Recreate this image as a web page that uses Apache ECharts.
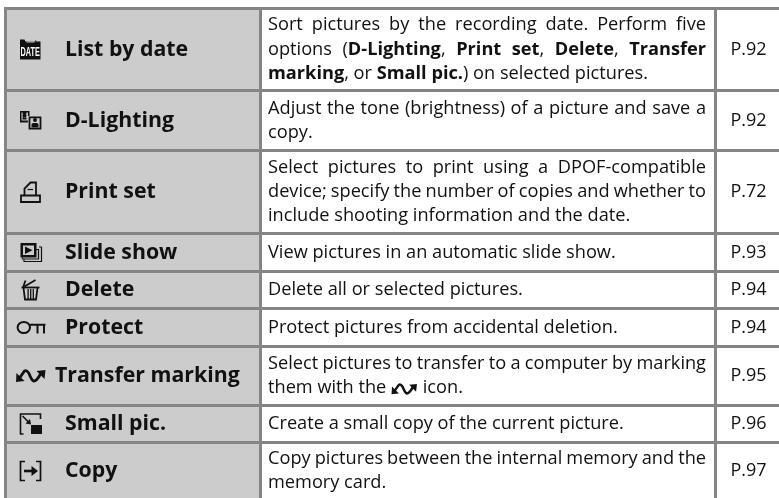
<!DOCTYPE html>
<html>
<head>
<meta charset="utf-8">
<style>
  html, body { margin: 0; padding: 0; background: #fff; }
  #main { width: 779px; height: 498px; }
</style>
<script src="https://cdn.jsdelivr.net/npm/echarts@6/dist/echarts.min.js"></script>
</head>
<body>
<div id="main"></div>
<script>
const itemIcons = ['date', 'dlighting', 'print', 'slide', 'delete', 'protect', 'transfer', 'small', 'copy'];
const itemNames = ['List by date', 'D-Lighting', 'Print set', 'Slide show', 'Delete', 'Protect', 'Transfer marking', 'Small pic.', 'Copy'];
const itemPages = ['P.92', 'P.92', 'P.72', 'P.93', 'P.94', 'P.94', 'P.95', 'P.96', 'P.97'];
// ** marks bold, @ is the inline transfer icon
const itemDescriptions = [
  ['Sort pictures by the recording date. Perform five',
   'options (**D-Lighting**, **Print set**, **Delete**, **Transfer**',
   '**marking**, or **Small pic.**) on selected pictures.'],
  ['Adjust the tone (brightness) of a picture and save a',
   'copy.'],
  ['Select pictures to print using a DPOF-compatible',
   'device; specify the number of copies and whether to',
   'include shooting information and the date.'],
  ['View pictures in an automatic slide show.'],
  ['Delete all or selected pictures.'],
  ['Protect pictures from accidental deletion.'],
  ['Select pictures to transfer to a computer by marking',
   'them with the @ icon.'],
  ['Create a small copy of the current picture.'],
  ['Copy pictures between the internal memory and the',
   'memory card.']
];

// table layout, in page pixels
const ruleTops = [7, 89, 149, 232, 270, 307, 345, 404, 441];
const ruleSize = 3;
const tableBottom = 498;
const tableLeft = 4;
const nameDivider = 259;
const pageDivider = 714;
const iconX = 30.5;
const nameX = 65;
const transferNameX = 55;
const descLeft = 268;
const descRight = 706;
const pageX = 748.5;
const lineStep = 24.3;

const lineColor = '#858585';
const nameFill = '#cccccc';
const inkColor = '#111111';
const fontFamily = '"Open Sans", "Noto Sans", sans-serif';
const descFont = 18.2;
const nameFont = 21.3;
const pageFont = 18;
const inlineIconWidth = 27;

const measureCtx = document.createElement('canvas').getContext('2d');
function textWidth(str, bold) {
  measureCtx.font = (bold ? 'bold ' : '') + descFont + 'px ' + fontFamily;
  return measureCtx.measureText(str).width;
}

// split one line into words, each word a list of {text, bold} runs
function parseLine(line) {
  const words = [];
  let current = [];
  line.split('**').forEach(function (part, i) {
    const bold = i % 2 === 1;
    part.split(' ').forEach(function (piece, j) {
      if (j > 0 && current.length) {
        words.push(current);
        current = [];
      }
      if (piece) current.push({ text: piece, bold: bold });
    });
  });
  if (current.length) words.push(current);
  return words;
}

function label(x, y, str, size, bold, align) {
  return {
    type: 'text',
    x: x,
    y: y,
    style: {
      text: str,
      fill: inkColor,
      font: (bold ? 'bold ' : '') + size + 'px ' + fontFamily,
      align: align || 'left',
      verticalAlign: 'middle'
    }
  };
}

function descriptionLine(line, y, justify) {
  const words = parseLine(line);
  const widths = words.map(function (word) {
    if (word[0].text === '@') return inlineIconWidth;
    return word.reduce(function (sum, run) { return sum + textWidth(run.text, run.bold); }, 0);
  });
  const total = widths.reduce(function (a, b) { return a + b; }, 0);
  const space = justify ? (descRight - descLeft - total) / (words.length - 1) : textWidth(' ', false);
  const out = [];
  let x = descLeft;
  words.forEach(function (word, i) {
    if (word[0].text === '@') {
      out.push({ type: 'group', x: x + 13, y: y + 1, scaleX: 0.86, scaleY: 0.86, children: iconShapes('transfer') });
    } else {
      let runX = x;
      word.forEach(function (run) {
        out.push(label(runX, y, run.text, descFont, run.bold));
        runX += textWidth(run.text, run.bold);
      });
    }
    x += widths[i] + space;
  });
  return out;
}

function box(x, y, w, h, fill) {
  return { type: 'rect', shape: { x: x, y: y, width: w, height: h }, style: { fill: fill || inkColor } };
}
function line(d, width) {
  return { type: 'path', shape: { pathData: d }, style: { fill: 'none', stroke: inkColor, lineWidth: width || 1.6 } };
}
function solid(d, fill) {
  return { type: 'path', shape: { pathData: d }, style: { fill: fill || inkColor } };
}

// small menu glyphs, drawn around their own centre
function iconShapes(name) {
  switch (name) {
    case 'date':
      return [
        solid('M-10.5 -10 L-6 -10 L-5 -8 L5 -8 L5 -10 L6 -8 L10 -8 L10 10 L-10.5 10 Z'),
        box(-4, -8, 8, 1, nameFill),
        { type: 'text', x: -0.3, y: 3.4, scaleX: 0.56, style: { text: 'DATE', fill: '#fff', font: 'bold 13px "Liberation Sans Narrow", sans-serif', align: 'center', verticalAlign: 'middle' } }
      ];
    case 'dlighting':
      return [
        solid('M-10.5 -9.5 L-1 -9.5 L-1 -4.5 L-2.6 -4.5 L-2.6 -8 L-9 -8 L-9 0 L-2.6 0 L-2.6 2 L-10.5 2 Z'),
        solid('M-7.5 -6 a2 2 0 1 1 3 0 a2 2 0 1 1 -3 0 M-8 -1 L-4 -1 L-4 -3 L-8 -3 Z'),
        line('M-1 -3.2 H10 V8.2 H-1 Z', 1.8),
        solid('M2.5 -0.5 a2 2 0 1 1 4 0 a2 2 0 1 1 -4 0 M1 7 V4 Q1 2.5 3 2.5 H6 Q8 2.5 8 4 V7 Z')
      ];
    case 'print':
      return [
        line('M-9.5 3.5 H9.5 V10 H-9.5 Z', 1.8),
        line('M-6 3.5 V-3.5 L0 -9.5 H5.5 V3.5', 1.8),
        line('M-3 -2.5 H2.5', 1.2)
      ];
    case 'slide':
      return [
        line('M8.5 -5.5 H11 V9 H-6.5 V7', 1.2),
        line('M5.5 -3 H8 V6.5 H-8 V5', 1.2),
        solid('M-10 -9.5 H6 V5 H-10 Z M-7.5 -7 V2.5 H3.5 V-7 Z'),
        solid('M-5.5 -6 L2 -2.3 L-5.5 1.5 Z')
      ];
    case 'delete':
      return [
        line('M-9 -2.5 H9', 1.8),
        line('M-7.5 -2.5 L-5 -9.5 M-6 -3.5 L5 -10', 1.8),
        line('M-7 -2 L-5.5 9.5 H5.5 L7 -2', 1.8),
        line('M-2.4 -1 V9 M0.2 -1 V9 M2.8 -1 V9', 1.3)
      ];
    case 'protect':
      return [
        line('M-0.5 0 a6.2 5.6 0 1 1 -12.4 0 a6.2 5.6 0 1 1 12.4 0 Z', 2),
        line('M-0.5 -2.8 H15 M7 -2.8 V6 M13.5 -2.8 V6', 2)
      ];
    case 'transfer':
      return [
        line('M-11 2 L-6 -5 Q-4 -6.5 -1.5 -2.5 Q1 4 3 5 Q6 5.5 10 -2', 2.8),
        solid('M-14.5 6 L-14 -3 L-6 5 Z'),
        solid('M15 -6 L14 3 L6 -5 Z')
      ];
    case 'small':
      return [
        line('M-7 10 H-10 V-10 H10 V-5', 1.6),
        box(0.5, 1, 11, 9),
        line('M-8 -8 L-1 -1', 1.6),
        solid('M0.5 0.5 L-5 -0.5 L-0.5 -5 Z')
      ];
    case 'copy':
      return [
        line('M-5.5 -9.5 H-10 V9.5 H-5.5', 1.7),
        line('M5.5 -9.5 H10 V9.5 H5.5', 1.7),
        line('M-6.5 0 H2', 2.6),
        solid('M1 -5 L7.5 0 L1 5 Z')
      ];
  }
  return [];
}

function renderRow(params, api) {
  const i = params.dataIndex;
  const top = ruleTops[i] + ruleSize;
  const bottom = i + 1 < ruleTops.length ? ruleTops[i + 1] : tableBottom;
  const corner = api.coord([tableLeft, ruleTops[i]]);
  const middle = (top + bottom) / 2;
  const lines = itemDescriptions[i];
  const firstLine = middle - (lines.length - 1) * lineStep / 2;

  const children = [
    box(nameDivider, top, pageDivider - nameDivider, bottom - top, '#fff'),
    box(tableLeft, top, nameDivider - tableLeft, bottom - top, nameFill),
    box(tableLeft, ruleTops[i], 779 - tableLeft, ruleSize, lineColor),
    box(tableLeft, top, ruleSize, bottom - top, lineColor),
    box(nameDivider, top, ruleSize, bottom - top, lineColor),
    box(pageDivider, top, ruleSize, bottom - top, lineColor),
    { type: 'group', x: iconX, y: middle, children: iconShapes(itemIcons[i]) },
    label(itemNames[i] === 'Transfer marking' ? transferNameX : nameX, middle, itemNames[i], nameFont, true),
    label(pageX, middle, itemPages[i], pageFont, false, 'center')
  ];
  lines.forEach(function (text, n) {
    descriptionLine(text, firstLine + n * lineStep, n < lines.length - 1)
      .forEach(function (el) { children.push(el); });
  });
  return { type: 'group', x: corner[0] - tableLeft, y: corner[1] - ruleTops[i], children: children };
}

const chart = echarts.init(document.getElementById('main'));
chart.setOption({
  animation: false,
  backgroundColor: '#fff',
  grid: { left: 0, right: 0, top: 0, bottom: 0 },
  xAxis: { type: 'value', min: 0, max: 779, show: false },
  yAxis: { type: 'value', min: 0, max: 498, inverse: true, show: false },
  series: [{
    type: 'custom',
    coordinateSystem: 'cartesian2d',
    clip: false,
    silent: true,
    renderItem: renderRow,
    data: itemNames.map(function (name, i) { return [tableLeft, ruleTops[i]]; })
  }]
});
</script>
</body>
</html>
